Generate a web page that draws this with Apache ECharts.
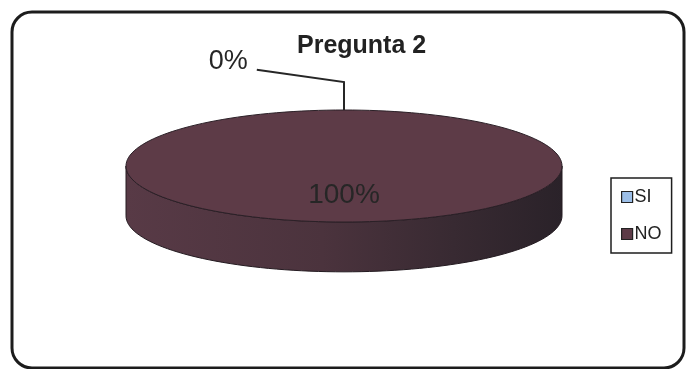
<!DOCTYPE html>
<html>
<head>
<meta charset="utf-8">
<script src="https://cdn.jsdelivr.net/npm/echarts@6/dist/echarts.min.js"></script>
<style>
  html, body { margin: 0; padding: 0; background: #fff; }
  #chart { width: 686px; height: 369px; }
</style>
</head>
<body>
<div id="chart"></div>
<script>
// Excel-style 3D pie: "Pregunta 2", SI / NO
const categories = ['SI', 'NO'];
const values = [0, 100];
const sliceColors = ['#9cbfe8', '#5d3b47'];
const titleText = 'Pregunta 2';

const FONT = '"Liberation Sans", Arial, sans-serif';
const DEPTH = 0.89;      // wall height, in units of the ellipse's vertical radius
const LABEL_R = 0.52;    // where Excel drops the percentage label along the slice

const total = values.reduce((a, b) => a + b, 0);
const starts = [];
let acc = 0;
values.forEach(v => { starts.push(acc / total * Math.PI * 2); acc += v; });

// angle 0 = 12 o'clock, clockwise
function pt(api, a, r, dz) {
  return api.coord([r * Math.sin(a), r * Math.cos(a) - (dz || 0)]);
}

function wallFill() {
  return new echarts.graphic.LinearGradient(0, 0, 1, 0, [
    { offset: 0, color: '#583a46' },
    { offset: 0.45, color: '#4b333d' },
    { offset: 0.75, color: '#382a32' },
    { offset: 1, color: '#2a2229' },
  ]);
}

function renderSlice(idx) {
  return function (params, api) {
    const frac = values[idx] / total;
    const a0 = starts[idx];
    const a1 = a0 + frac * Math.PI * 2;
    const mid = (a0 + a1) / 2;
    const children = [];

    if (frac > 0) {
      // front wall (only the part facing the viewer)
      const w0 = Math.max(a0, Math.PI / 2), w1 = Math.min(a1, Math.PI * 1.5);
      if (w1 > w0) {
        const top = [], bot = [];
        for (let i = 0; i <= 80; i++) {
          const a = w0 + (w1 - w0) * i / 80;
          top.push(pt(api, a, 1));
          bot.push(pt(api, a, 1, DEPTH));
        }
        children.push({
          type: 'polygon',
          shape: { points: top.concat(bot.reverse()) },
          style: { fill: wallFill(), stroke: '#241b21', lineWidth: 1 },
        });
      }
      // top face
      const pts = [];
      if (frac < 1) pts.push(api.coord([0, 0]));
      for (let i = 0; i <= 160; i++) pts.push(pt(api, a0 + (a1 - a0) * i / 160, 1));
      children.push({
        type: 'polygon',
        shape: { points: pts },
        style: { fill: sliceColors[idx], stroke: '#2b2027', lineWidth: 1 },
      });
    }

    const label = Math.round(frac * 100) + '%';
    const p1 = pt(api, mid, LABEL_R);
    if (frac >= 0.05) {
      children.push({
        type: 'text', x: p1[0], y: p1[1],
        style: { text: label, font: '28px ' + FONT, fill: '#262626', align: 'center', verticalAlign: 'middle' },
      });
    } else {
      // small slice: label outside with an elbow leader
      const p2 = api.coord([mid === 0 ? 0 : Math.sin(mid) * LABEL_R, 1.5]);
      const p3 = api.coord([Math.sin(mid) * LABEL_R - 0.4, 1.72]);
      children.push({
        type: 'polyline',
        shape: { points: [p1, p2, p3] },
        style: { stroke: '#262626', lineWidth: 2, fill: null },
      });
      children.push({
        type: 'text', x: p3[0] - 9, y: p3[1] - 8,
        style: { text: label, font: '27px ' + FONT, fill: '#262626', align: 'right', verticalAlign: 'middle' },
      });
    }
    return { type: 'group', children };
  };
}

const chart = echarts.init(document.getElementById('chart'), null, { renderer: 'canvas' });

chart.setOption({
  animation: false,
  backgroundColor: '#fff',
  title: {
    text: titleText,
    left: 292, top: 29,
    textStyle: { fontFamily: FONT, fontWeight: 'bold', fontSize: 25, color: '#222' },
  },
  legend: {
    data: categories,
    orient: 'vertical',
    left: 611, top: 178,
    padding: [10, 10, 10, 10],
    itemGap: 19,
    itemWidth: 11, itemHeight: 11,
    icon: 'rect',
    borderColor: '#1e1e1e', borderWidth: 1.5,
    backgroundColor: '#fff',
    itemStyle: { borderColor: '#222', borderWidth: 1.2 },
    textStyle: { fontFamily: FONT, fontSize: 18, color: '#222', padding: [0, 0, 0, -3] },
  },
  grid: { left: 126, width: 436, top: 110, height: 112 },
  xAxis: { type: 'value', min: -1, max: 1, show: false },
  yAxis: { type: 'value', min: -1, max: 1, show: false },
  graphic: [{
    type: 'rect', z: -10,
    shape: { x: 12, y: 12, width: 672, height: 356, r: 20 },
    style: { fill: null, stroke: '#1c1c1c', lineWidth: 3 },
  }],
  series: categories.map((name, i) => ({
    type: 'custom',
    name,
    coordinateSystem: 'cartesian2d',
    data: [[values[i], 0]],
    itemStyle: { color: sliceColors[i] },
    renderItem: renderSlice(i),
    clip: false,
  })),
});
</script>
</body>
</html>
